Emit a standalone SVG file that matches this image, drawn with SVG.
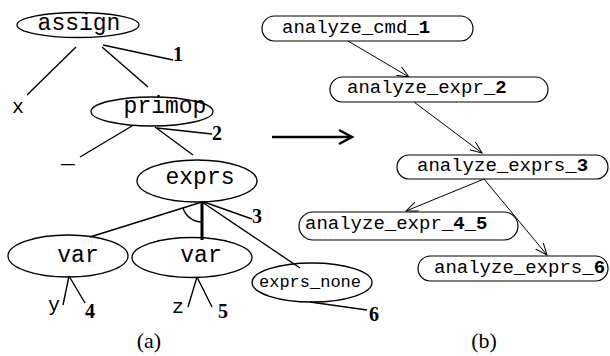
<svg xmlns="http://www.w3.org/2000/svg" width="610" height="356" viewBox="0 0 610 356">
<style>
.ell{fill:none;stroke:#000;stroke-width:1.3}
.tl{stroke:#000;stroke-width:1.4;fill:none}
.tt{font-family:"Liberation Mono",monospace;font-size:23px;text-anchor:middle;fill:#000}
.lab{font-family:"Liberation Mono",monospace;font-size:20px;text-anchor:middle;fill:#000}
.num{font-family:"Liberation Serif",serif;font-size:20px;font-weight:bold;fill:#000}
.cap{font-family:"Liberation Serif",serif;font-size:22px;text-anchor:middle;fill:#000}
.box{fill:#fff;stroke:#000;stroke-width:1.2}
.bt{font-family:"Liberation Mono",monospace;font-size:19px;fill:#000}
.ar{stroke:#000;stroke-width:1;fill:none;marker-end:url(#ah)}
</style>
<defs>
<marker id="ah" markerUnits="userSpaceOnUse" markerWidth="14" markerHeight="12" refX="12" refY="5" orient="auto">
<path d="M0,0 L12,5 L0,10" fill="none" stroke="#000" stroke-width="1"/>
</marker>
</defs>
<g id="connectors">
<line class="tl" x1="76" y1="47" x2="27" y2="95"/>
<line class="tl" x1="102" y1="47" x2="148" y2="87"/>
<line class="tl" x1="103" y1="45" x2="173" y2="60"/>
<line class="tl" x1="132" y1="126" x2="80" y2="157"/>
<line class="tl" x1="155" y1="127" x2="193" y2="155"/>
<line class="tl" x1="157" y1="128" x2="212" y2="134"/>
<line class="tl" x1="202" y1="202" x2="90" y2="237"/>
<line class="tl" x1="202" y1="202" x2="202" y2="240" style="stroke-width:3"/>
<line class="tl" x1="202" y1="202" x2="300" y2="268"/>
<line class="tl" x1="204" y1="202" x2="252" y2="219"/>
<path class="tl" d="M183,208 A20,20 0 0 0 202,222"/>
<line class="tl" x1="69" y1="276" x2="63" y2="305"/>
<line class="tl" x1="69" y1="276" x2="85" y2="303"/>
<line class="tl" x1="197" y1="277" x2="188" y2="307"/>
<line class="tl" x1="197" y1="277" x2="212" y2="307"/>
<line class="tl" x1="310" y1="302" x2="367" y2="310"/>
<line x1="272" y1="137" x2="351" y2="137" stroke="#000" stroke-width="2.5"/>
<path d="M339,130 L352,137 L339,144" fill="none" stroke="#000" stroke-width="2.5"/>
<line class="ar" x1="348" y1="41" x2="409" y2="77"/>
<line class="ar" x1="414" y1="102" x2="482" y2="153"/>
<line class="ar" x1="484" y1="179" x2="406" y2="211"/>
<line class="ar" x1="484" y1="179" x2="547" y2="255"/>
</g>
<g id="assign"><ellipse class="ell" cx="78" cy="25" rx="61" ry="12.5"/><text class="tt" x="79" y="30">assign</text></g>
<g id="x"><text class="lab" x="18" y="113">x</text></g>
<g id="primop"><ellipse class="ell" cx="152" cy="111.5" rx="61" ry="14.5"/><text class="tt" x="165" y="113">primop</text></g>
<g id="underscore"><text class="tt" x="68" y="163">_</text></g>
<g id="exprs"><ellipse class="ell" cx="197" cy="181" rx="60" ry="21"/><text class="tt" x="200" y="184">exprs</text></g>
<g id="var1"><ellipse class="ell" cx="68" cy="256" rx="60" ry="21"/><text class="tt" x="78" y="262">var</text></g>
<g id="var2"><ellipse class="ell" cx="192" cy="257.5" rx="60" ry="20"/><text class="tt" x="201" y="262">var</text></g>
<g id="exprs_none"><ellipse class="ell" cx="312" cy="282.5" rx="60" ry="19.5"/><text class="tt" style="font-size:17px" x="310" y="287">exprs_none</text></g>
<g id="y"><text class="lab" x="54" y="311">y</text></g>
<g id="z"><text class="lab" x="178" y="313">z</text></g>
<g id="nums">
<text class="num" x="173" y="61">1</text>
<text class="num" x="212" y="140">2</text>
<text class="num" x="252" y="223">3</text>
<text class="num" x="85" y="318">4</text>
<text class="num" x="218" y="318">5</text>
<text class="num" x="369" y="321">6</text>
</g>
<g id="cap-a"><text class="cap" x="149" y="348">(a)</text></g>
<g id="cap-b"><text class="cap" x="484" y="348">(b)</text></g>
<g id="n1"><rect class="box" x="262" y="16" width="211" height="25" rx="12.5"/><text class="bt" x="282" y="33">analyze_cmd_<tspan font-weight="bold">1</tspan></text></g>
<g id="n2"><rect class="box" x="330" y="77" width="218" height="25" rx="12.5"/><text class="bt" x="347" y="93">analyze_expr_<tspan font-weight="bold">2</tspan></text></g>
<g id="n3"><rect class="box" x="397" y="155" width="211" height="24" rx="12"/><text class="bt" x="417" y="171">analyze_exprs_<tspan font-weight="bold">3</tspan></text></g>
<g id="n45"><rect class="box" x="299" y="212" width="219" height="28" rx="14"/><text class="bt" x="305" y="229">analyze_expr_<tspan font-weight="bold">4</tspan>_<tspan font-weight="bold">5</tspan></text></g>
<g id="n6"><rect class="box" x="418" y="256" width="190" height="25" rx="12.5"/><text class="bt" x="434" y="273">analyze_exprs_<tspan font-weight="bold">6</tspan></text></g>
</svg>
